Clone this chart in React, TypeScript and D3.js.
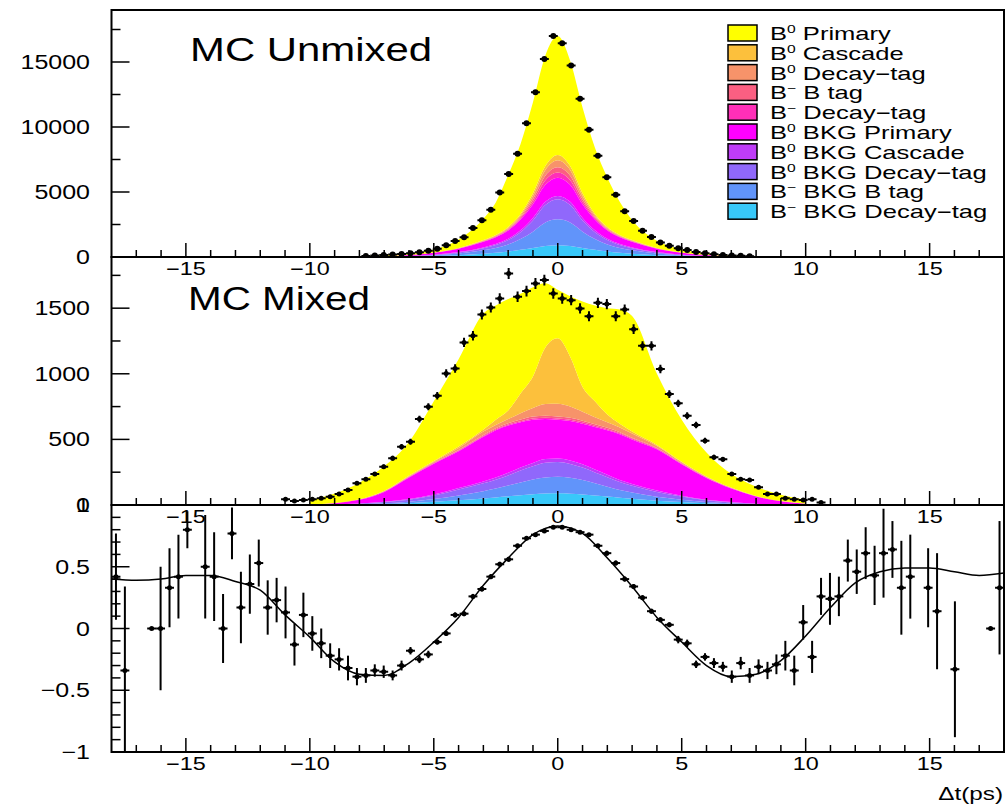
import React from "react";
import * as d3 from "d3";

// Δt grid (ps) on which the stacked MC components were read
const gridT = [-10, -8, -7, -6, -5, -4, -3, -2.5, -2, -1.5, -1, -0.5, 0, 0.5, 1, 1.5, 2, 2.5, 3, 4, 5, 6, 7, 8, 10];

// legend: B + superscript + text
const compSup = ["0", "0", "0", "−", "−", "0", "0", "0", "−", "−"];
const compText = ["Primary", "Cascade", "Decay−tag", "B tag", "Decay−tag", "BKG Primary", "BKG Cascade", "BKG Decay−tag", "BKG B tag", "BKG Decay−tag"];
const compColors = ["#ffff00", "#fcc03c", "#f7936a", "#fb5f82", "#ff2fb8", "#ff00ff", "#bf3cf7", "#9068fb", "#6194fa", "#38c8f9"];

// MC Unmixed components (same order as legend)
const unmixedComp = [
  [0, 30, 70, 110, 230, 650, 1650, 2500, 4000, 5400, 7000, 8500, 9150, 8100, 6600, 5100, 3800, 2550, 1550, 550, 250, 110, 40, 10, 0],
  [0, 1, 2, 5, 10, 20, 40, 50, 70, 100, 200, 300, 400, 300, 200, 100, 70, 50, 40, 20, 10, 5, 2, 1, 0],
  [0, 1, 2, 5, 5, 15, 30, 50, 70, 120, 250, 450, 550, 450, 250, 120, 70, 50, 30, 15, 5, 5, 2, 1, 0],
  [0, 0, 1, 2, 5, 15, 30, 40, 60, 100, 200, 350, 400, 350, 200, 100, 60, 40, 30, 15, 5, 2, 1, 0, 0],
  [0, 1, 1, 3, 5, 10, 30, 40, 60, 100, 200, 350, 400, 350, 200, 100, 60, 40, 30, 10, 5, 3, 1, 1, 0],
  [0, 15, 39, 75, 145, 260, 430, 520, 640, 830, 1050, 1300, 1400, 1300, 1050, 830, 640, 520, 430, 260, 145, 75, 39, 15, 0],
  [0, 1, 3, 8, 15, 30, 60, 80, 100, 150, 200, 250, 250, 250, 200, 150, 100, 80, 60, 30, 15, 8, 3, 1, 0],
  [0, 3, 8, 17, 40, 85, 170, 230, 340, 520, 850, 1350, 1550, 1350, 850, 520, 340, 230, 170, 85, 40, 17, 8, 3, 0],
  [0, 3, 11, 25, 55, 125, 260, 360, 530, 820, 1250, 1800, 2000, 1800, 1250, 820, 530, 360, 260, 125, 55, 25, 11, 3, 0],
  [0, 5, 13, 30, 70, 140, 250, 330, 430, 560, 700, 850, 900, 850, 700, 560, 430, 330, 250, 140, 70, 30, 13, 5, 0],
];

// MC Mixed components
const mixedComp = [
  [32, 126, 187, 256, 455, 665, 885, 870, 850, 760, 680, 490, 370, 460, 650, 730, 810, 870, 880, 542, 320, 182, 103, 71, 29],
  [1, 1, 2, 4, 5, 10, 15, 40, 65, 150, 240, 430, 498, 380, 190, 122, 60, 30, 15, 8, 5, 3, 2, 1, 1],
  [0, 1, 2, 4, 7, 15, 27, 25, 32, 49, 66, 90, 97, 86, 67, 53, 42, 35, 32, 15, 7, 4, 2, 1, 0],
  [0, 1, 2, 3, 4, 5, 7, 8, 10, 12, 14, 15, 15, 14, 13, 11, 10, 8, 7, 5, 4, 3, 2, 1, 0],
  [0, 1, 2, 3, 4, 5, 6, 7, 8, 9, 10, 10, 10, 10, 10, 9, 8, 7, 6, 5, 4, 3, 2, 1, 0],
  [2, 28, 75, 165, 235, 280, 340, 360, 360, 345, 330, 305, 295, 300, 310, 325, 340, 350, 340, 315, 240, 165, 103, 55, 10],
  [0, 1, 3, 5, 8, 12, 15, 17, 20, 23, 25, 28, 28, 27, 25, 22, 18, 15, 13, 10, 6, 4, 2, 1, 0],
  [0, 5, 9, 15, 27, 46, 60, 68, 77, 90, 100, 112, 112, 106, 95, 83, 72, 60, 52, 38, 24, 14, 8, 4, 0],
  [0, 3, 6, 11, 21, 36, 55, 67, 82, 98, 113, 123, 126, 121, 110, 93, 76, 60, 48, 29, 18, 9, 5, 2, 0],
  [0, 3, 7, 14, 24, 36, 50, 58, 66, 74, 82, 87, 89, 86, 80, 72, 64, 55, 47, 33, 22, 13, 7, 3, 0],
];

// data points: 100 bins over [-18, 18]
const unmixedFirstBin = 28;
const unmixedCounts = [80, 110, 150, 190, 230, 285, 360, 480, 630, 900, 1240, 1515, 2240, 2820, 3630, 4960, 6380, 7935, 10280, 12670, 15230, 17000, 16440, 14740, 12180, 9790, 7790, 6140, 4780, 3510, 2770, 2010, 1530, 1110, 860, 670, 540, 380, 290, 220, 160, 120, 90, 60];

const mixedFirstBin = 19;
const mixedCounts = [43, 30, 38, 43, 51, 63, 84, 114, 165, 196, 236, 292, 356, 444, 482, 655, 749, 832, 1003, 1041, 1239, 1290, 1452, 1505, 1574, 1765, 1587, 1630, 1688, 1714, 1612, 1574, 1561, 1498, 1439, 1541, 1531, 1439, 1490, 1340, 1213, 1213, 1036, 845, 775, 680, 609, 490, 363, 348, 236, 196, 190, 135, 84, 84, 51, 43, 38, 43, 20];

const asymBins = [0, 1, 4, 5, 6, 7, 8, 10, 11, 12, 13, 14, 15, 16, 17, 18, 19, 20, 21, 22, 23, 24, 25, 26, 27, 28, 29, 30, 31, 32, 33, 34, 35, 36, 37, 38, 39, 40, 41, 42, 43, 44, 45, 46, 47, 48, 49, 50, 51, 52, 53, 54, 55, 56, 57, 58, 59, 60, 61, 62, 63, 64, 65, 66, 67, 68, 69, 70, 71, 72, 73, 74, 75, 76, 77, 78, 79, 80, 81, 82, 83, 84, 85, 86, 87, 88, 89, 91, 92, 94, 98, 99];
const asymVals = [0.42, -0.34, 0.0, 0.0, 0.33, 0.42, 0.8, 0.5, 0.42, 0.0, 0.77, 0.17, 0.36, 0.53, 0.17, 0.23, 0.13, -0.13, 0.11, -0.04, -0.12, -0.22, -0.25, -0.32, -0.39, -0.38, -0.34, -0.35, -0.38, -0.3, -0.18, -0.25, -0.21, -0.11, -0.04, 0.11, 0.12, 0.26, 0.32, 0.42, 0.52, 0.56, 0.67, 0.73, 0.76, 0.79, 0.82, 0.82, 0.8, 0.78, 0.76, 0.67, 0.61, 0.53, 0.4, 0.34, 0.25, 0.14, 0.07, 0.03, -0.09, -0.12, -0.29, -0.23, -0.28, -0.31, -0.39, -0.28, -0.38, -0.31, -0.34, -0.29, -0.22, -0.34, 0.05, -0.23, 0.26, 0.24, 0.26, 0.55, 0.46, 0.61, 0.43, 0.61, 0.64, 0.33, 0.42, 0.33, 0.14, -0.33, 0.0, 0.33];
const asymErrs = [0.35, 0.68, 0.0, 0.5, 0.32, 0.34, 0.15, 0.42, 0.36, 0.28, 0.21, 0.29, 0.24, 0.19, 0.22, 0.18, 0.21, 0.17, 0.18, 0.14, 0.12, 0.1, 0.09, 0.1, 0.07, 0.06, 0.05, 0.05, 0.04, 0.04, 0.03, 0.03, 0.03, 0.02, 0.02, 0.02, 0.02, 0.02, 0.02, 0.02, 0.02, 0.02, 0.01, 0.01, 0.01, 0.01, 0.01, 0.01, 0.01, 0.01, 0.01, 0.01, 0.02, 0.02, 0.02, 0.02, 0.02, 0.02, 0.02, 0.02, 0.03, 0.03, 0.03, 0.03, 0.04, 0.04, 0.05, 0.05, 0.06, 0.06, 0.07, 0.08, 0.12, 0.12, 0.14, 0.13, 0.15, 0.21, 0.16, 0.17, 0.18, 0.21, 0.24, 0.36, 0.23, 0.38, 0.34, 0.32, 0.47, 0.55, 0.0, 0.54];

// fitted asymmetry curve
const fitT = [-18, -17, -16, -15, -14, -13, -12, -11, -10, -9, -8, -7, -6, -5, -4, -3, -2, -1, 0, 1, 2, 3, 4, 5, 6, 7, 8, 9, 10, 11, 12, 13, 14, 15, 16, 17, 18];
const fitVals = [0.4, 0.39, 0.4, 0.43, 0.43, 0.38, 0.31, 0.11, -0.07, -0.27, -0.37, -0.38, -0.28, -0.11, 0.09, 0.35, 0.57, 0.76, 0.83, 0.77, 0.57, 0.34, 0.09, -0.11, -0.3, -0.39, -0.37, -0.26, -0.06, 0.17, 0.37, 0.46, 0.49, 0.49, 0.46, 0.43, 0.45];

const xTicks = [-15, -10, -5, 0, 5, 10, 15];
const xTickLabels = ["−15", "−10", "−5", "0", "5", "10", "15"];
const unmixedTicks = [0, 5000, 10000, 15000];
const unmixedTickLabels = ["0", "5000", "10000", "15000"];
const mixedTicks = [0, 500, 1000, 1500];
const mixedTickLabels = ["0", "500", "1000", "1500"];
const asymTicks = [-1, -0.5, 0, 0.5, 1];
const asymTickLabels = ["−1", "−0.5", "0", "0.5", "1"];

const FONT = "Liberation Sans, Arial, Helvetica, sans-serif";
const binCenter = (i: number) => -18 + 0.36 * (i + 0.5);

export default function App() {
  const x = d3.scaleLinear().domain([-18, 18]).range([111.5, 1004]);
  const yTop = d3.scaleLinear().domain([0, 19000]).range([257, 10]);
  const yMid = d3.scaleLinear().domain([0, 1890]).range([505, 257]);
  const yBot = d3.scaleLinear().domain([-1, 1]).range([752, 505]);

  const stackOf = (comps: number[][]) => {
    const rows = gridT.map((t, j) => {
      const r: any = { t };
      comps.forEach((c, k) => (r["c" + k] = c[j]));
      return r;
    });
    const keys = comps.map((_, k) => "c" + k).reverse(); // cyan at the bottom
    return d3.stack<any>().keys(keys)(rows);
  };

  const areaFor = (y: d3.ScaleLinear<number, number>) =>
    d3.area<any>()
      .x(d => x(d.data.t))
      .y0(d => y(d[0]))
      .y1(d => y(d[1]))
      .curve(d3.curveMonotoneX);

  const panels = [
    { id: "p1", y: yTop, top: 10, bottom: 257, comps: unmixedComp, ticks: unmixedTicks, labels: unmixedTickLabels, minorStep: 2500, title: "MC Unmixed", titleX: 190, titleY: 61, titleLen: 242 },
    { id: "p2", y: yMid, top: 257, bottom: 505, comps: mixedComp, ticks: mixedTicks, labels: mixedTickLabels, minorStep: 250, title: "MC Mixed", titleX: 188, titleY: 310, titleLen: 182 },
  ];

  const binHalf = 0.18;
  const pointsFor = (first: number, vals: number[], y: d3.ScaleLinear<number, number>, r: number) =>
    vals.map((v, k) => {
      const t = binCenter(first + k);
      const e = Math.sqrt(v);
      return (
        <g key={k}>
          <line x1={x(t - binHalf)} x2={x(t + binHalf)} y1={y(v)} y2={y(v)} stroke="#000" strokeWidth={2} />
          <line x1={x(t)} x2={x(t)} y1={y(v - e)} y2={y(v + e)} stroke="#000" strokeWidth={2} />
          <circle cx={x(t)} cy={y(v)} r={r} fill="#000" />
        </g>
      );
    });

  const xTickMarks = (bottom: number) =>
    d3.range(-17, 18).map(v => (
      <line key={v} x1={x(v)} x2={x(v)} y1={bottom} y2={bottom - (v % 5 === 0 ? 14 : 7)} stroke="#000" strokeWidth={1.5} />
    ));

  const xTickText = (bottom: number) =>
    xTicks.map((v, k) => (
      <text key={v} transform={`translate(${x(v)},${bottom + 18}) scale(1.3,1)`} textAnchor="middle" fontSize={18} fontFamily={FONT}>
        {xTickLabels[k]}
      </text>
    ));

  const yTickMarks = (y: d3.ScaleLinear<number, number>, majors: number[], minorStep: number) => {
    const [lo, hi] = y.domain();
    const minors = d3.range(Math.ceil(lo / minorStep) * minorStep, hi + 1e-9, minorStep)
      .filter(v => !majors.some(m => Math.abs(m - v) < 1e-9));
    return (
      <g>
        {majors.map(v => <line key={"M" + v} x1={111.5} x2={129.5} y1={y(v)} y2={y(v)} stroke="#000" strokeWidth={1.5} />)}
        {minors.map(v => <line key={"m" + v} x1={111.5} x2={120.5} y1={y(v)} y2={y(v)} stroke="#000" strokeWidth={1.5} />)}
      </g>
    );
  };

  const yTickText = (y: d3.ScaleLinear<number, number>, ticks: number[], labels: string[]) =>
    ticks.map((v, k) => (
      <text key={v} transform={`translate(90,${y(v) + 7}) scale(1.25,1)`} textAnchor="end" fontSize={20} fontFamily={FONT}>
        {labels[k]}
      </text>
    ));

  const fitLine = d3.line<number>()
    .x((_, k) => x(fitT[k]))
    .y(d => yBot(d))
    .curve(d3.curveMonotoneX);

  return (
    <svg width={1007} height={805} style={{ position: "absolute", left: 0, top: 0, background: "#fff" }}>
      <defs>
        <clipPath id="clip-p1"><rect x={111.5} y={10} width={892.5} height={247} /></clipPath>
        <clipPath id="clip-p2"><rect x={111.5} y={257} width={892.5} height={248} /></clipPath>
        <clipPath id="clip-p3"><rect x={111.5} y={505} width={892.5} height={247} /></clipPath>
      </defs>
      <rect width={1007} height={805} fill="#fff" />

      {panels.map(p => {
        const layers = stackOf(p.comps);
        const area = areaFor(p.y);
        return (
          <g key={p.id}>
            <g clipPath={`url(#clip-${p.id})`}>
              {layers.map(layer => {
                const idx = Number(String(layer.key).slice(1));
                return <path key={layer.key} d={area(layer) || ""} fill={compColors[idx]} />;
              })}
              {p.id === "p1"
                ? pointsFor(unmixedFirstBin, unmixedCounts, p.y, 3)
                : pointsFor(mixedFirstBin, mixedCounts, p.y, 2.5)}
            </g>
            <text x={p.titleX} y={p.titleY} fontSize={33} fontFamily={FONT} textLength={p.titleLen} lengthAdjust="spacingAndGlyphs">
              {p.title}
            </text>
            {xTickMarks(p.bottom)}
            {yTickMarks(p.y, p.ticks, p.minorStep)}
            <rect x={111.5} y={p.top} width={892.5} height={p.bottom - p.top} fill="none" stroke="#000" strokeWidth={2} />
          </g>
        );
      })}

      {/* asymmetry panel */}
      <g>
        <g clipPath="url(#clip-p3)">
          <path d={fitLine(fitVals) || ""} fill="none" stroke="#000" strokeWidth={1.5} />
          {asymBins.map((b, k) => {
            const t = binCenter(b);
            const v = asymVals[k];
            const e = asymErrs[k];
            return (
              <g key={b}>
                <line x1={x(t - binHalf)} x2={x(t + binHalf)} y1={yBot(v)} y2={yBot(v)} stroke="#000" strokeWidth={2} />
                {e > 0 && <line x1={x(t)} x2={x(t)} y1={yBot(v - e)} y2={yBot(v + e)} stroke="#000" strokeWidth={2} />}
                <circle cx={x(t)} cy={yBot(v)} r={2.5} fill="#000" />
              </g>
            );
          })}
        </g>
        {xTickMarks(752)}
        {yTickMarks(yBot, asymTicks, 0.1)}
        <rect x={111.5} y={505} width={892.5} height={247} fill="none" stroke="#000" strokeWidth={2} />
      </g>

      {/* axis labels on top of everything */}
      {xTickText(257)}
      {xTickText(505)}
      {xTickText(752)}
      {yTickText(yTop, unmixedTicks, unmixedTickLabels)}
      {yTickText(yMid, mixedTicks, mixedTickLabels)}
      {yTickText(yBot, asymTicks, asymTickLabels)}

      <text transform="translate(1003,800) scale(1.35,1)" textAnchor="end" fontSize={18} fontFamily={FONT}>
        Δt(ps)
      </text>

      {/* legend */}
      <g>
        {compText.map((txt, k) => {
          const top = 25 + k * 19.8;
          return (
            <g key={k}>
              <rect x={728} y={top} width={29} height={16} fill={compColors[k]} stroke="#000" strokeWidth={1.5} />
              <text transform={`translate(770,${top + 15}) scale(1.42,1)`} fontSize={18} fontFamily={FONT}>
                B<tspan fontSize={11} dy={-7}>{compSup[k]}</tspan>
                <tspan dy={7}>{" " + txt}</tspan>
              </text>
            </g>
          );
        })}
      </g>
    </svg>
  );
}
